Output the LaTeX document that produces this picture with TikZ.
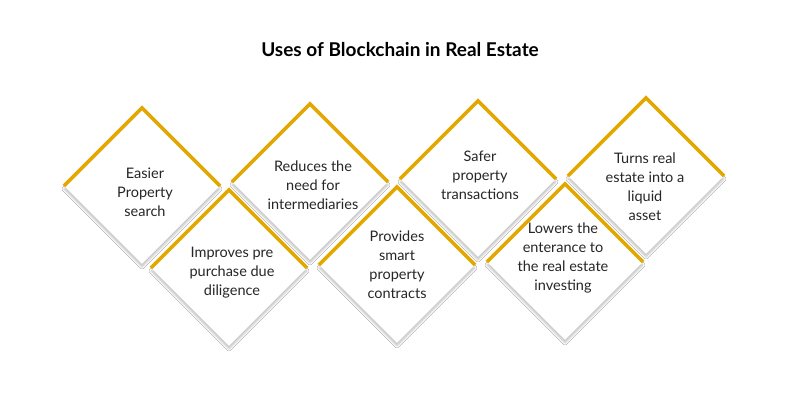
\documentclass[tikz,border=0pt]{standalone}
\usepackage{fontspec}
\setmainfont{Lato}
\usetikzlibrary{shapes.geometric,shadows.blur}
\definecolor{gold}{HTML}{E2A800}
\tikzset{
 dia/.style={diamond,aspect=1,minimum width=156pt,minimum height=156pt,inner sep=0pt,fill=white,
   blur shadow={shadow xshift=0pt,shadow yshift=-3pt,shadow blur steps=8,shadow opacity=25}},
 lbl/.style={align=center,font=\fontsize{14.5}{19}\selectfont,text=black!85},
 rim/.style={gold,line width=3.5pt}
}
\newcommand{\mydia}[5]{%
 \node[dia] (#1) at (#2pt,-#3pt) {};
 \draw[rim] (#1.west) -- (#1.north) -- (#1.east);
 \node[lbl] (#1t) at (#4pt,-#5pt) {\strut};
}
\begin{document}
\begin{tikzpicture}
\useasboundingbox[fill=white] (0,0) rectangle (801pt,-403pt);
\node[font=\fontsize{19}{23}\selectfont\bfseries] (title) at (400pt,-50pt) {Uses of Blockchain in Real Estate};
\node[dia] (a) at (142pt,-186pt) {}; \draw[rim] (a.west)--(a.north)--(a.east);
\node[dia] (c) at (310pt,-182pt) {}; \draw[rim] (c.west)--(c.north)--(c.east);
\node[dia] (e) at (478pt,-179pt) {}; \draw[rim] (e.west)--(e.north)--(e.east);
\node[dia] (g) at (646pt,-176pt) {}; \draw[rim] (g.west)--(g.north)--(g.east);
\node[dia] (b) at (229pt,-268pt) {}; \draw[rim] (b.west)--(b.north)--(b.east);
\node[dia] (d) at (397pt,-265pt) {}; \draw[rim] (d.west)--(d.north)--(d.east);
\node[dia] (f) at (565pt,-262pt) {}; \draw[rim] (f.west)--(f.north)--(f.east);
\node[lbl] (at) at (145pt,-192pt) {Easier\\Property\\search};
\node[lbl] (ct) at (313pt,-185pt) {Reduces the\\need for\\intermediaries};
\node[lbl] (et) at (480pt,-175pt) {Safer\\property\\transactions};
\node[lbl] (gt) at (645pt,-187pt) {Turns real\\estate into a\\liquid\\asset};
\node[lbl] (bt) at (232pt,-273pt) {Improves pre\\purchase due\\diligence};
\node[lbl] (dt) at (397pt,-265pt) {Provides\\smart\\property\\contracts};
\node[lbl] (ft) at (563pt,-258pt) {Lowers the\\enterance to\\the real estate\\investing};
\end{tikzpicture}
\end{document}
